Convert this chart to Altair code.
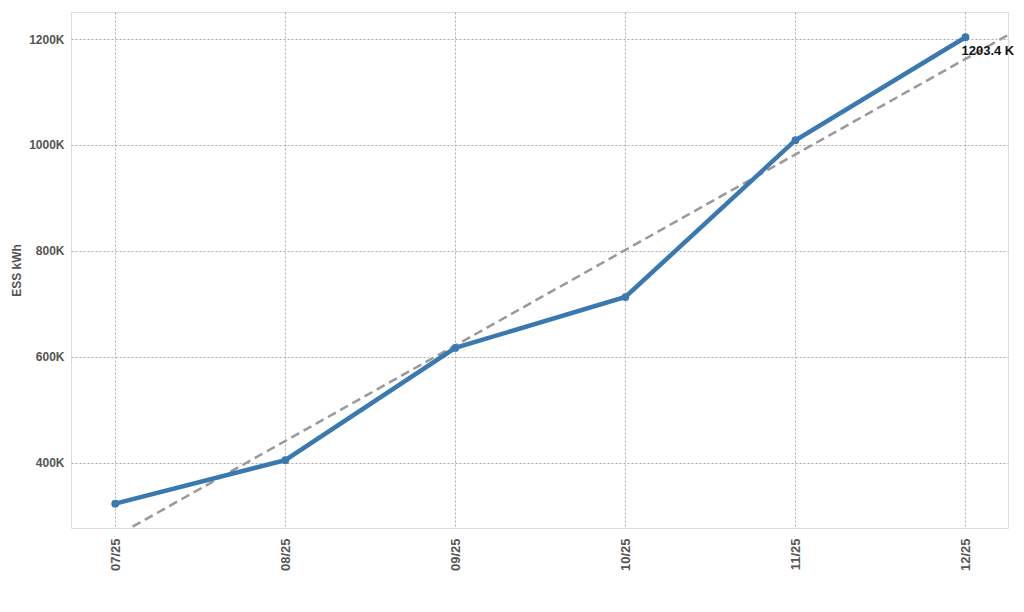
import altair as alt
import pandas as pd

months = ["07/25", "08/25", "09/25", "10/25", "11/25", "12/25"]
values_k = [323, 405, 617, 713, 1009, 1203.4]
y_ticks = [400, 600, 800, 1000, 1200]
last_label = "1203.4 K"

df = pd.DataFrame({"idx": list(range(len(months))), "month": months, "val": values_k})
lab_df = pd.DataFrame({"idx": [len(months) - 1], "val": [values_k[-1]], "txt": [last_label]})

label_expr = "[" + ",".join("'%s'" % m for m in months) + "][datum.value]"
FONT = "Liberation Sans"

x = alt.X("idx:Q", scale=alt.Scale(domain=[-0.26, 5.25], nice=False, zero=False),
          axis=alt.Axis(values=list(range(len(months))), labelExpr=label_expr, labelAngle=-90,
                        labelAlign="right", labelBaseline="middle", title=None, ticks=False,
                        domain=False, labelPadding=10, labelFontSize=13, labelFontWeight="bold",
                        labelColor="#555", labelFont=FONT,
                        grid=True, gridColor="#aaaaaa", gridDash=[2, 2], gridWidth=1))
y = alt.Y("val:Q", scale=alt.Scale(domain=[277, 1251], nice=False, zero=False),
          axis=alt.Axis(values=y_ticks, labelExpr="datum.value + 'K'", title="ESS kWh",
                        titleFontSize=12, titleFontWeight="bold", titleColor="#555", titleFont=FONT,
                        titlePadding=5, ticks=False, domain=False, labelPadding=7,
                        labelFontSize=12, labelFontWeight="bold", labelColor="#555", labelFont=FONT,
                        grid=True, gridColor="#aaaaaa", gridDash=[2, 2], gridWidth=1))

trend = alt.Chart(df).transform_regression("idx", "val", extent=[-0.4, 5.4]).mark_line(
    color="#999999", strokeWidth=2.5, strokeDash=[9, 5], clip=True
).encode(x=x, y=y)

line = alt.Chart(df).mark_line(color="#3a78b0", strokeWidth=4.5,
                               point=alt.OverlayMarkDef(color="#3a78b0", size=60, filled=True)).encode(x=x, y=y)

text = alt.Chart(lab_df).mark_text(align="left", baseline="middle", dx=-4, dy=14,
                                   fontSize=13, fontWeight="bold", color="#111", font=FONT).encode(
    x=x, y=y, text="txt:N")

chart = (trend + line + text).properties(
    width=937, height=516,
    autosize=alt.AutoSizeParams(type="none"),
    padding={"left": 63, "top": 4, "right": 8, "bottom": 76},
).configure_view(stroke="#dddddd", strokeWidth=1.5).configure(background="white")

chart.save("out.html", embed_options={"renderer": "svg", "actions": False})
